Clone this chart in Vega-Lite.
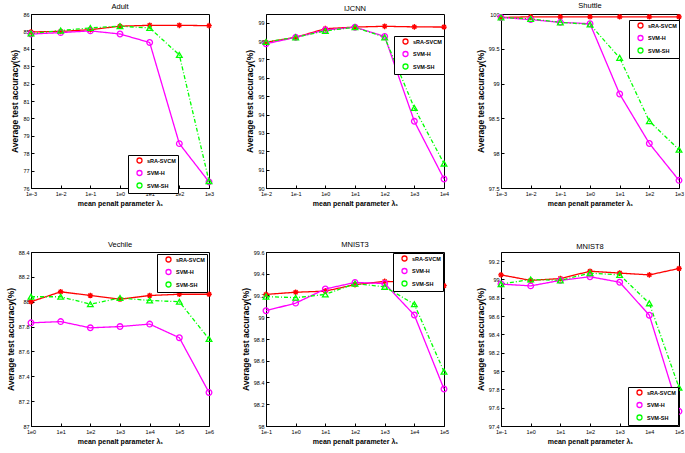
{
  "$schema": "https://vega.github.io/schema/vega-lite/v6.json",
  "background": "white",
  "padding": {"left": 5, "top": 1, "right": 1, "bottom": 1},
  "columns": 3,
  "spacing": {"column": 25, "row": 33},
  "config": {
    "font": "Liberation Sans",
    "view": {"stroke": "black", "strokeWidth": 1},
    "title": {"fontSize": 7.5, "fontWeight": "normal", "offset": 2, "color": "black"},
    "axis": {"grid": false, "domainColor": "black", "tickColor": "black", "labelColor": "black", "titleColor": "black", "labelFontSize": 5.5, "titleFontWeight": "bold", "tickSize": -3, "labelPadding": 5},
    "axisX": {"labelAngle": 0, "titlePadding": 3, "titleFontSize": 7, "labelPadding": 6},
    "axisY": {"titlePadding": 3, "titleFontSize": 8.5},
    "legend": {"strokeColor": "black", "fillColor": "white", "padding": 2, "labelFontSize": 5.5, "labelFontWeight": "bold", "rowPadding": 1.5, "symbolSize": 25, "symbolStrokeWidth": 1.3, "labelOffset": 4, "offset": 0, "symbolOffset": 6}
  },
  "concat": [
    {
      "title": "Adult",
      "width": 178, "height": 174,
      "data": {"values": [
        {"x": "1e-3", "m": "sRA-SVCM", "v": 84.97}, {"x": "1e-2", "m": "sRA-SVCM", "v": 85.0}, {"x": "1e-1", "m": "sRA-SVCM", "v": 85.1}, {"x": "1e0", "m": "sRA-SVCM", "v": 85.3}, {"x": "1e1", "m": "sRA-SVCM", "v": 85.35}, {"x": "1e2", "m": "sRA-SVCM", "v": 85.35}, {"x": "1e3", "m": "sRA-SVCM", "v": 85.33},
        {"x": "1e-3", "m": "SVM-H", "v": 84.85}, {"x": "1e-2", "m": "SVM-H", "v": 84.93}, {"x": "1e-1", "m": "SVM-H", "v": 85.03}, {"x": "1e0", "m": "SVM-H", "v": 84.85}, {"x": "1e1", "m": "SVM-H", "v": 84.36}, {"x": "1e2", "m": "SVM-H", "v": 78.55}, {"x": "1e3", "m": "SVM-H", "v": 76.35},
        {"x": "1e-3", "m": "SVM-SH", "v": 84.88}, {"x": "1e-2", "m": "SVM-SH", "v": 85.05}, {"x": "1e-1", "m": "SVM-SH", "v": 85.2}, {"x": "1e0", "m": "SVM-SH", "v": 85.3}, {"x": "1e1", "m": "SVM-SH", "v": 85.2}, {"x": "1e2", "m": "SVM-SH", "v": 83.65}, {"x": "1e3", "m": "SVM-SH", "v": 76.4}
      ]},
      "encoding": {
        "x": {"field": "x", "type": "ordinal", "sort": null, "scale": {"type": "point", "padding": 0, "domain": ["1e-3", "1e-2", "1e-1", "1e0", "1e1", "1e2", "1e3"]}, "axis": {"title": "mean penalt parameter λ₁"}},
        "y": {"field": "v", "type": "quantitative", "scale": {"domain": [76, 86], "nice": false, "zero": false}, "axis": {"title": "Average test accuracy(%)", "values": [76, 77, 78, 79, 80, 81, 82, 83, 84, 85, 86]}}
      },
      "layer": [
        {"mark": {"type": "line", "strokeWidth": 1.3},
         "encoding": {
           "color": {"field": "m", "type": "nominal", "scale": {"domain": ["sRA-SVCM", "SVM-H", "SVM-SH"], "range": ["#ff0000", "#ff00ff", "#00ff00"]}},
           "strokeDash": {"field": "m", "type": "nominal", "scale": {"domain": ["sRA-SVCM", "SVM-H", "SVM-SH"], "range": [[1, 0], [1, 0], [4, 2, 1, 2]]}, "legend": null}
         }},
        {"mark": {"type": "point", "filled": false, "strokeWidth": 1.3, "size": 32, "opacity": 1},
         "encoding": {
           "color": {"field": "m", "type": "nominal", "legend": {"title": null, "orient": "none", "legendX": 97, "legendY": 141}},
           "shape": {"field": "m", "type": "nominal", "scale": {"domain": ["sRA-SVCM", "SVM-H", "SVM-SH"], "range": ["M-1,0L1,0M0,-1L0,1M-0.7,-0.7L0.7,0.7M-0.7,0.7L0.7,-0.7", "circle", "triangle-up"]}}
         }}
      ]
    },
    {
      "title": "IJCNN",
      "width": 178, "height": 174,
      "data": {"values": [
        {"x": "1e-2", "m": "sRA-SVCM", "v": 97.93}, {"x": "1e-1", "m": "sRA-SVCM", "v": 98.2}, {"x": "1e0", "m": "sRA-SVCM", "v": 98.67}, {"x": "1e1", "m": "sRA-SVCM", "v": 98.76}, {"x": "1e2", "m": "sRA-SVCM", "v": 98.8}, {"x": "1e3", "m": "sRA-SVCM", "v": 98.77}, {"x": "1e4", "m": "sRA-SVCM", "v": 98.76},
        {"x": "1e-2", "m": "SVM-H", "v": 97.85}, {"x": "1e-1", "m": "SVM-H", "v": 98.2}, {"x": "1e0", "m": "SVM-H", "v": 98.6}, {"x": "1e1", "m": "SVM-H", "v": 98.75}, {"x": "1e2", "m": "SVM-H", "v": 98.25}, {"x": "1e3", "m": "SVM-H", "v": 93.63}, {"x": "1e4", "m": "SVM-H", "v": 90.49},
        {"x": "1e-2", "m": "SVM-SH", "v": 97.95}, {"x": "1e-1", "m": "SVM-SH", "v": 98.2}, {"x": "1e0", "m": "SVM-SH", "v": 98.55}, {"x": "1e1", "m": "SVM-SH", "v": 98.75}, {"x": "1e2", "m": "SVM-SH", "v": 98.2}, {"x": "1e3", "m": "SVM-SH", "v": 94.36}, {"x": "1e4", "m": "SVM-SH", "v": 91.33}
      ]},
      "encoding": {
        "x": {"field": "x", "type": "ordinal", "sort": null, "scale": {"type": "point", "padding": 0, "domain": ["1e-2", "1e-1", "1e0", "1e1", "1e2", "1e3", "1e4"]}, "axis": {"title": "mean penalt parameter λ₁"}},
        "y": {"field": "v", "type": "quantitative", "scale": {"domain": [90, 99.47], "nice": false, "zero": false}, "axis": {"title": "Average test accuracy(%)", "values": [90, 91, 92, 93, 94, 95, 96, 97, 98, 99]}}
      },
      "layer": [
        {"mark": {"type": "line", "strokeWidth": 1.3},
         "encoding": {
           "color": {"field": "m", "type": "nominal", "scale": {"domain": ["sRA-SVCM", "SVM-H", "SVM-SH"], "range": ["#ff0000", "#ff00ff", "#00ff00"]}},
           "strokeDash": {"field": "m", "type": "nominal", "scale": {"domain": ["sRA-SVCM", "SVM-H", "SVM-SH"], "range": [[4, 2, 1, 2], [4, 2, 1, 2], [4, 2, 1, 2]]}, "legend": null}
         }},
        {"mark": {"type": "point", "filled": false, "strokeWidth": 1.3, "size": 32, "opacity": 1},
         "encoding": {
           "color": {"field": "m", "type": "nominal", "legend": {"title": null, "orient": "none", "legendX": 128, "legendY": 22}},
           "shape": {"field": "m", "type": "nominal", "scale": {"domain": ["sRA-SVCM", "SVM-H", "SVM-SH"], "range": ["diamond", "diamond", "diamond"]}}
         }}
      ]
    },
    {
      "title": "Shuttle",
      "width": 178, "height": 174,
      "data": {"values": [
        {"x": "1e-3", "m": "sRA-SVCM", "v": 99.95}, {"x": "1e-2", "m": "sRA-SVCM", "v": 99.96}, {"x": "1e-1", "m": "sRA-SVCM", "v": 99.96}, {"x": "1e0", "m": "sRA-SVCM", "v": 99.96}, {"x": "1e1", "m": "sRA-SVCM", "v": 99.96}, {"x": "1e2", "m": "sRA-SVCM", "v": 99.96}, {"x": "1e3", "m": "sRA-SVCM", "v": 99.96},
        {"x": "1e-3", "m": "SVM-H", "v": 99.95}, {"x": "1e-2", "m": "SVM-H", "v": 99.92}, {"x": "1e-1", "m": "SVM-H", "v": 99.88}, {"x": "1e0", "m": "SVM-H", "v": 99.86}, {"x": "1e1", "m": "SVM-H", "v": 98.85}, {"x": "1e2", "m": "SVM-H", "v": 98.14}, {"x": "1e3", "m": "SVM-H", "v": 97.61},
        {"x": "1e-3", "m": "SVM-SH", "v": 99.95}, {"x": "1e-2", "m": "SVM-SH", "v": 99.93}, {"x": "1e-1", "m": "SVM-SH", "v": 99.88}, {"x": "1e0", "m": "SVM-SH", "v": 99.85}, {"x": "1e1", "m": "SVM-SH", "v": 99.37}, {"x": "1e2", "m": "SVM-SH", "v": 98.46}, {"x": "1e3", "m": "SVM-SH", "v": 98.05}
      ]},
      "encoding": {
        "x": {"field": "x", "type": "ordinal", "sort": null, "scale": {"type": "point", "padding": 0, "domain": ["1e-3", "1e-2", "1e-1", "1e0", "1e1", "1e2", "1e3"]}, "axis": {"title": "mean penalt parameter λ₁"}},
        "y": {"field": "v", "type": "quantitative", "scale": {"domain": [97.5, 100], "nice": false, "zero": false}, "axis": {"title": "Average test accuracy(%)", "values": [97.5, 98, 98.5, 99, 99.5, 100], "format": "~g"}}
      },
      "layer": [
        {"mark": {"type": "line", "strokeWidth": 1.3},
         "encoding": {
           "color": {"field": "m", "type": "nominal", "scale": {"domain": ["sRA-SVCM", "SVM-H", "SVM-SH"], "range": ["#ff0000", "#ff00ff", "#00ff00"]}},
           "strokeDash": {"field": "m", "type": "nominal", "scale": {"domain": ["sRA-SVCM", "SVM-H", "SVM-SH"], "range": [[4, 2, 1, 2], [4, 2, 1, 2], [4, 2, 1, 2]]}, "legend": null}
         }},
        {"mark": {"type": "point", "filled": false, "strokeWidth": 1.3, "size": 32, "opacity": 1},
         "encoding": {
           "color": {"field": "m", "type": "nominal", "legend": {"title": null, "orient": "none", "legendX": 128, "legendY": 6}},
           "shape": {"field": "m", "type": "nominal", "scale": {"domain": ["sRA-SVCM", "SVM-H", "SVM-SH"], "range": ["M-1,0L1,0M0,-1L0,1M-0.7,-0.7L0.7,0.7M-0.7,0.7L0.7,-0.7", "circle", "triangle-up"]}}
         }}
      ]
    },
    {
      "title": "Vechile",
      "width": 178, "height": 174,
      "data": {"values": [
        {"x": "1e0", "m": "sRA-SVCM", "v": 88.0}, {"x": "1e1", "m": "sRA-SVCM", "v": 88.08}, {"x": "1e2", "m": "sRA-SVCM", "v": 88.05}, {"x": "1e3", "m": "sRA-SVCM", "v": 88.02}, {"x": "1e4", "m": "sRA-SVCM", "v": 88.05}, {"x": "1e5", "m": "sRA-SVCM", "v": 88.06}, {"x": "1e6", "m": "sRA-SVCM", "v": 88.06},
        {"x": "1e0", "m": "SVM-H", "v": 87.83}, {"x": "1e1", "m": "SVM-H", "v": 87.84}, {"x": "1e2", "m": "SVM-H", "v": 87.79}, {"x": "1e3", "m": "SVM-H", "v": 87.8}, {"x": "1e4", "m": "SVM-H", "v": 87.82}, {"x": "1e5", "m": "SVM-H", "v": 87.71}, {"x": "1e6", "m": "SVM-H", "v": 87.27},
        {"x": "1e0", "m": "SVM-SH", "v": 88.04}, {"x": "1e1", "m": "SVM-SH", "v": 88.04}, {"x": "1e2", "m": "SVM-SH", "v": 87.98}, {"x": "1e3", "m": "SVM-SH", "v": 88.03}, {"x": "1e4", "m": "SVM-SH", "v": 88.01}, {"x": "1e5", "m": "SVM-SH", "v": 88.0}, {"x": "1e6", "m": "SVM-SH", "v": 87.7}
      ]},
      "encoding": {
        "x": {"field": "x", "type": "ordinal", "sort": null, "scale": {"type": "point", "padding": 0, "domain": ["1e0", "1e1", "1e2", "1e3", "1e4", "1e5", "1e6"]}, "axis": {"title": "mean penalt parameter λ₁"}},
        "y": {"field": "v", "type": "quantitative", "scale": {"domain": [87, 88.4], "nice": false, "zero": false}, "axis": {"title": "Average test accuracy(%)", "values": [87, 87.2, 87.4, 87.6, 87.8, 88, 88.2, 88.4], "format": "~g"}}
      },
      "layer": [
        {"mark": {"type": "line", "strokeWidth": 1.3},
         "encoding": {
           "color": {"field": "m", "type": "nominal", "scale": {"domain": ["sRA-SVCM", "SVM-H", "SVM-SH"], "range": ["#ff0000", "#ff00ff", "#00ff00"]}},
           "strokeDash": {"field": "m", "type": "nominal", "scale": {"domain": ["sRA-SVCM", "SVM-H", "SVM-SH"], "range": [[4, 2, 1, 2], [4, 2, 1, 2], [4, 2, 1, 2]]}, "legend": null}
         }},
        {"mark": {"type": "point", "filled": false, "strokeWidth": 1.3, "size": 32, "opacity": 1},
         "encoding": {
           "color": {"field": "m", "type": "nominal", "legend": {"title": null, "orient": "top-right", "offset": 2}},
           "shape": {"field": "m", "type": "nominal", "scale": {"domain": ["sRA-SVCM", "SVM-H", "SVM-SH"], "range": ["M-1,0L1,0M0,-1L0,1M-0.7,-0.7L0.7,0.7M-0.7,0.7L0.7,-0.7", "circle", "triangle-up"]}}
         }}
      ]
    },
    {
      "title": "MNIST3",
      "width": 178, "height": 174,
      "data": {"values": [
        {"x": "1e-1", "m": "sRA-SVCM", "v": 99.21}, {"x": "1e0", "m": "sRA-SVCM", "v": 99.23}, {"x": "1e1", "m": "sRA-SVCM", "v": 99.24}, {"x": "1e2", "m": "sRA-SVCM", "v": 99.3}, {"x": "1e3", "m": "sRA-SVCM", "v": 99.33}, {"x": "1e4", "m": "sRA-SVCM", "v": 99.32}, {"x": "1e5", "m": "sRA-SVCM", "v": 99.29},
        {"x": "1e-1", "m": "SVM-H", "v": 99.06}, {"x": "1e0", "m": "SVM-H", "v": 99.13}, {"x": "1e1", "m": "SVM-H", "v": 99.26}, {"x": "1e2", "m": "SVM-H", "v": 99.32}, {"x": "1e3", "m": "SVM-H", "v": 99.31}, {"x": "1e4", "m": "SVM-H", "v": 99.02}, {"x": "1e5", "m": "SVM-H", "v": 98.34},
        {"x": "1e-1", "m": "SVM-SH", "v": 99.19}, {"x": "1e0", "m": "SVM-SH", "v": 99.18}, {"x": "1e1", "m": "SVM-SH", "v": 99.21}, {"x": "1e2", "m": "SVM-SH", "v": 99.31}, {"x": "1e3", "m": "SVM-SH", "v": 99.28}, {"x": "1e4", "m": "SVM-SH", "v": 99.12}, {"x": "1e5", "m": "SVM-SH", "v": 98.5}
      ]},
      "encoding": {
        "x": {"field": "x", "type": "ordinal", "sort": null, "scale": {"type": "point", "padding": 0, "domain": ["1e-1", "1e0", "1e1", "1e2", "1e3", "1e4", "1e5"]}, "axis": {"title": "mean penalt parameter λ₁"}},
        "y": {"field": "v", "type": "quantitative", "scale": {"domain": [98, 99.6], "nice": false, "zero": false}, "axis": {"title": "Average test accuracy(%)", "values": [98, 98.2, 98.4, 98.6, 98.8, 99, 99.2, 99.4, 99.6], "format": "~g"}}
      },
      "layer": [
        {"mark": {"type": "line", "strokeWidth": 1.3},
         "encoding": {
           "color": {"field": "m", "type": "nominal", "scale": {"domain": ["sRA-SVCM", "SVM-H", "SVM-SH"], "range": ["#ff0000", "#ff00ff", "#00ff00"]}},
           "strokeDash": {"field": "m", "type": "nominal", "scale": {"domain": ["sRA-SVCM", "SVM-H", "SVM-SH"], "range": [[4, 2, 1, 2], [4, 2, 1, 2], [4, 2, 1, 2]]}, "legend": null}
         }},
        {"mark": {"type": "point", "filled": false, "strokeWidth": 1.3, "size": 32, "opacity": 1},
         "encoding": {
           "color": {"field": "m", "type": "nominal", "legend": {"title": null, "orient": "top-right", "offset": 1}},
           "shape": {"field": "m", "type": "nominal", "scale": {"domain": ["sRA-SVCM", "SVM-H", "SVM-SH"], "range": ["M-1,0L1,0M0,-1L0,1M-0.7,-0.7L0.7,0.7M-0.7,0.7L0.7,-0.7", "circle", "triangle-up"]}}
         }}
      ]
    },
    {
      "title": "MNIST8",
      "width": 178, "height": 174,
      "data": {"values": [
        {"x": "1e-1", "m": "sRA-SVCM", "v": 99.05}, {"x": "1e0", "m": "sRA-SVCM", "v": 98.99}, {"x": "1e1", "m": "sRA-SVCM", "v": 99.01}, {"x": "1e2", "m": "sRA-SVCM", "v": 99.09}, {"x": "1e3", "m": "sRA-SVCM", "v": 99.07}, {"x": "1e4", "m": "sRA-SVCM", "v": 99.05}, {"x": "1e5", "m": "sRA-SVCM", "v": 99.12},
        {"x": "1e-1", "m": "SVM-H", "v": 98.95}, {"x": "1e0", "m": "SVM-H", "v": 98.93}, {"x": "1e1", "m": "SVM-H", "v": 98.99}, {"x": "1e2", "m": "SVM-H", "v": 99.03}, {"x": "1e3", "m": "SVM-H", "v": 98.97}, {"x": "1e4", "m": "SVM-H", "v": 98.61}, {"x": "1e5", "m": "SVM-H", "v": 97.56},
        {"x": "1e-1", "m": "SVM-SH", "v": 98.95}, {"x": "1e0", "m": "SVM-SH", "v": 99.0}, {"x": "1e1", "m": "SVM-SH", "v": 98.99}, {"x": "1e2", "m": "SVM-SH", "v": 99.07}, {"x": "1e3", "m": "SVM-SH", "v": 99.05}, {"x": "1e4", "m": "SVM-SH", "v": 98.74}, {"x": "1e5", "m": "SVM-SH", "v": 97.82}
      ]},
      "encoding": {
        "x": {"field": "x", "type": "ordinal", "sort": null, "scale": {"type": "point", "padding": 0, "domain": ["1e-1", "1e0", "1e1", "1e2", "1e3", "1e4", "1e5"]}, "axis": {"title": "mean penalt parameter λ₁"}},
        "y": {"field": "v", "type": "quantitative", "scale": {"domain": [97.4, 99.3], "nice": false, "zero": false}, "axis": {"title": "Average test accuracy(%)", "values": [97.4, 97.6, 97.8, 98, 98.2, 98.4, 98.6, 98.8, 99, 99.2], "format": "~g"}}
      },
      "layer": [
        {"mark": {"type": "line", "strokeWidth": 1.3},
         "encoding": {
           "color": {"field": "m", "type": "nominal", "scale": {"domain": ["sRA-SVCM", "SVM-H", "SVM-SH"], "range": ["#ff0000", "#ff00ff", "#00ff00"]}},
           "strokeDash": {"field": "m", "type": "nominal", "scale": {"domain": ["sRA-SVCM", "SVM-H", "SVM-SH"], "range": [[4, 2, 1, 2], [4, 2, 1, 2], [4, 2, 1, 2]]}, "legend": null}
         }},
        {"mark": {"type": "point", "filled": false, "strokeWidth": 1.3, "size": 32, "opacity": 1},
         "encoding": {
           "color": {"field": "m", "type": "nominal", "legend": {"title": null, "orient": "bottom-right", "offset": 1}},
           "shape": {"field": "m", "type": "nominal", "scale": {"domain": ["sRA-SVCM", "SVM-H", "SVM-SH"], "range": ["M-1,0L1,0M0,-1L0,1M-0.7,-0.7L0.7,0.7M-0.7,0.7L0.7,-0.7", "circle", "triangle-up"]}}
         }}
      ]
    }
  ]
}
